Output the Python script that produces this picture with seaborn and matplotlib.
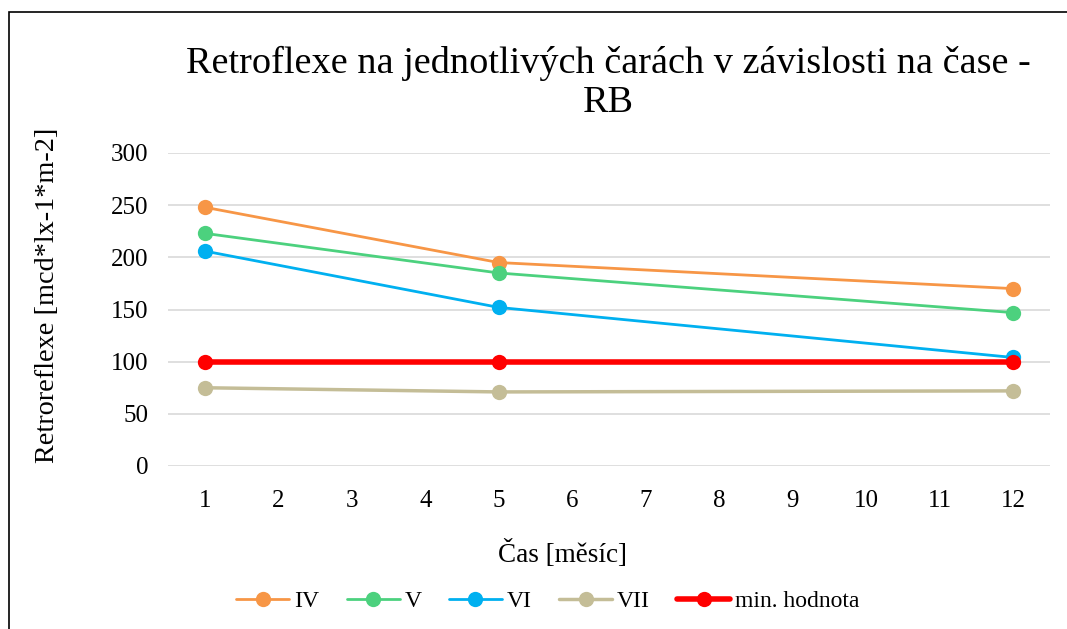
import pandas as pd
import matplotlib.pyplot as plt
import seaborn as sns
from matplotlib.patches import Rectangle

# data
mesic = [1, 5, 12]
iv = [248, 195, 170]
v = [223, 185, 147]
vi = [206, 152, 104]
vii = [75, 71, 72]
min_hodnota = [100, 100, 100]

series = ["IV", "V", "VI", "VII", "min. hodnota"]
values = [iv, v, vi, vii, min_hodnota]
colors = ["#F79646", "#4CD17E", "#00B0F0", "#C4BD97", "#FF0000"]
widths = [2, 2, 2, 2.5, 4]

rows = []
for name, vals in zip(series, values):
    for m, val in zip(mesic, vals):
        rows.append({"mesic": m, "hodnota": val, "rada": name})
df = pd.DataFrame(rows)

sns.set_theme(style="white")
plt.rcParams["font.family"] = ["Liberation Serif", "DejaVu Serif"]
plt.rcParams["text.color"] = "black"
plt.rcParams["axes.labelcolor"] = "black"
plt.rcParams["xtick.color"] = "black"
plt.rcParams["ytick.color"] = "black"

fig = plt.figure(figsize=(10.67, 6.29), dpi=100)
ax = fig.add_axes([168 / 1067, 1 - 466 / 629, (1050 - 168) / 1067, (466 - 153) / 629])

for name, col, lw in zip(series, colors, widths):
    sub = df[df["rada"] == name]
    sns.lineplot(data=sub, x="mesic", y="hodnota", ax=ax, color=col, linewidth=lw,
                 marker="o", markersize=11, markeredgewidth=0, label=name)

ax.set_xlim(0.5, 12.5)
ax.set_ylim(0, 300)
ax.set_xticks(range(1, 13))
ax.set_yticks(range(0, 301, 50))
ax.tick_params(axis="both", length=0, labelsize=18)
ax.tick_params(axis="x", pad=17)
ax.tick_params(axis="y", pad=14)
ax.grid(axis="y", color="#D9D9D9", linewidth=1.2)
ax.set_axisbelow(True)
for s in ax.spines.values():
    s.set_visible(False)

ax.set_xlabel("Čas [měsíc]", fontsize=19.5)
ax.xaxis.set_label_coords((563 - 168) / 882, -0.235)
ax.set_ylabel("Retroreflexe [mcd*lx-1*m-2]", fontsize=20.3)
ax.yaxis.set_label_coords(-0.123, (466 - 295) / 313)

fig.text(608 / 1067, 1 - 83 / 629, "Retroflexe na jednotlivých čarách v závislosti na čase -\nRB",
         ha="center", va="center", fontsize=27.5, linespacing=1.15)

ax.get_legend().remove()
handles, labels = ax.get_legend_handles_labels()
fig.legend(handles, labels, loc="center", bbox_to_anchor=(548 / 1067, 1 - 601 / 629),
           ncol=5, frameon=False, fontsize=17, handlelength=2.25, columnspacing=1.15,
           handletextpad=0.21)

fig.patches.append(Rectangle((9 / 1067, -0.05), 1.2, 1 - 12 / 629 + 0.05,
                             transform=fig.transFigure, fill=False,
                             edgecolor="black", linewidth=1.2))

fig.savefig("out.png", dpi=100)
